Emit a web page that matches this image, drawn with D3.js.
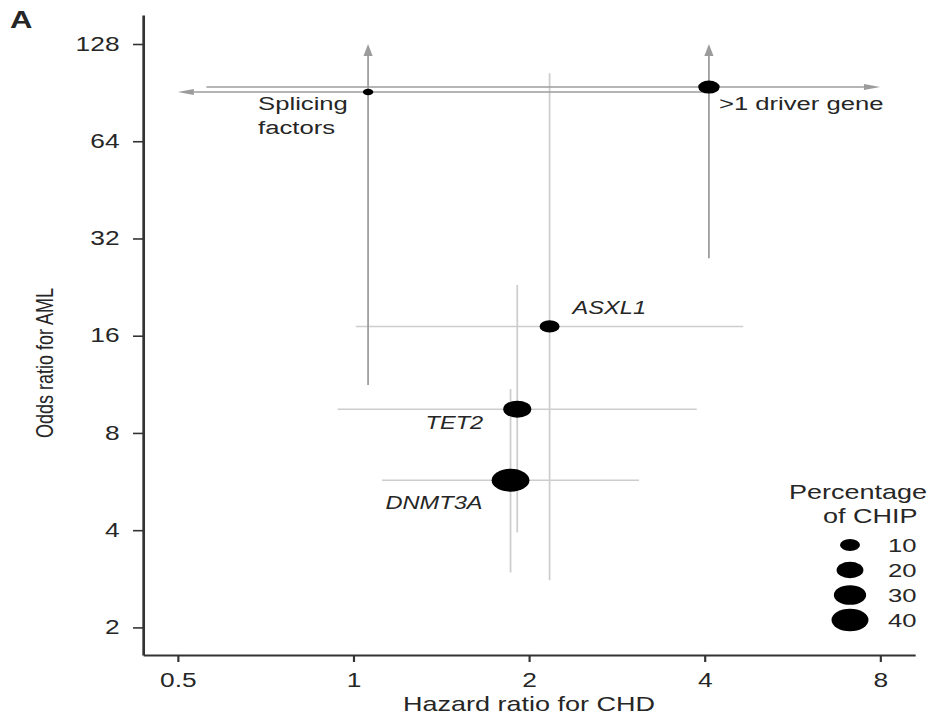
<!DOCTYPE html>
<html>
<head>
<meta charset="utf-8">
<script src="https://cdn.jsdelivr.net/npm/d3@7/dist/d3.min.js"></script>
<style>
  html, body { margin: 0; padding: 0; background: #fff; }
  svg { display: block; }
  text { font-family: "Liberation Sans", Arial, sans-serif; fill: #262626; }
</style>
</head>
<body>
<svg id="chart" width="932" height="716"></svg>
<script>
// Mutation groups in clonal hematopoiesis
const genes = ["Splicing factors", ">1 driver gene", "ASXL1", "TET2", "DNMT3A"];
const hazardRatio = [1.06, 4.07, 2.17, 1.91, 1.86];
// null = interval runs past the plotted range (drawn with an arrow)
const hrLower = [null, 0.56, 1.01, 0.94, 1.12];
const hrUpper = [4.04, null, 4.66, 3.88, 3.09];
const oddsRatio = [90.9, 94.2, 17.1, 9.48, 5.71];
const orLower = [11.25, 27.8, 2.80, 3.94, 2.96];
const orUpper = [null, null, 104, 22.96, 10.94];
const chipPercent = [1, 12, 10, 22, 42];
const italicName = [false, false, true, true, true];

const xTicks = [0.5, 1, 2, 4, 8];
const yTicks = [2, 4, 8, 16, 32, 64, 128];
const legendValues = [10, 20, 30, 40];
const hrLimits = [0.5, 8];
const orLimitHigh = 128;

// The figure is drawn in a horizontally stretched frame
const S = 1.35;
const svg = d3.select("#chart");
const g = svg.append("g").attr("transform", `scale(${S},1)`);

const x = d3.scaleLog().base(2).domain([0.436, 9.18]).range([143 / S, 915 / S]);
const y = d3.scaleLog().base(2).domain([1.643, 157.4]).range([655, 15]);
const area = d3.scaleLinear().domain([0, 40]).range([7.1, 125.7]);
const ry = v => Math.sqrt(area(v));
const rx = v => ry(v) * 1.22;

// Axes
const xAxis = d3.axisBottom(x).tickValues(xTicks).tickFormat(d3.format("")).tickSize(7).tickPadding(11).tickSizeOuter(0);
const yAxis = d3.axisLeft(y).tickValues(yTicks).tickFormat(d3.format("")).tickSize(7.4).tickPadding(10).tickSizeOuter(0);

const gx = g.append("g").attr("transform", `translate(0,${y.range()[0]})`).call(xAxis);
const gy = g.append("g").attr("transform", `translate(${x.range()[0]},0)`).call(yAxis);
[gx, gy].forEach(ax => {
  ax.select(".domain").attr("stroke", "#333").attr("stroke-width", 2);
  ax.selectAll(".tick line").attr("stroke", "#333").attr("stroke-width", 1.6);
  ax.selectAll(".tick text").attr("font-size", 19.5).attr("fill", "#333")
    .attr("font-family", "Liberation Sans, Arial, sans-serif");
});

// Axis titles
g.append("text")
  .attr("x", (x(0.436) + x(9.18)) / 2).attr("y", 711)
  .attr("text-anchor", "middle").attr("font-size", 20)
  .text("Hazard ratio for CHD");
g.append("text")
  .attr("transform", `translate(${53 / S},${363}) rotate(-90)`)
  .attr("text-anchor", "middle").attr("font-size", 18)
  .attr("font-family", "Liberation Sans Narrow, Liberation Sans, Arial, sans-serif")
  .text("Odds ratio for AML");

// Panel letter
g.append("text").attr("x", 10 / S).attr("y", 28)
  .attr("font-size", 23).attr("font-weight", "900").attr("fill", "#111").text("A");

// Confidence intervals
const rows = genes.map((name, i) => ({
  name, i,
  hr: hazardRatio[i], hrLo: hrLower[i], hrHi: hrUpper[i],
  or: oddsRatio[i], orLo: orLower[i], orHi: orUpper[i],
  pct: chipPercent[i], italic: italicName[i]
}));
const truncated = d => d.hrLo === null || d.hrHi === null || d.orHi === null;
const lineColor = d => truncated(d) ? "#9c9c9c" : "#cdcdcd";

const arrowLen = 12, arrowHalf = 3.4;
const ci = g.append("g");

// Lighter intervals underneath, darker (truncated) on top
const ordered = rows.slice().sort((a, b) => truncated(a) - truncated(b));
ordered.forEach(d => {
  const col = lineColor(d);
  // horizontal (hazard ratio)
  const x0 = d.hrLo === null ? x(hrLimits[0]) + arrowLen : x(d.hrLo);
  const x1 = d.hrHi === null ? x(hrLimits[1]) - arrowLen : x(d.hrHi);
  ci.append("line").attr("x1", x0).attr("x2", x1).attr("y1", y(d.or)).attr("y2", y(d.or))
    .attr("stroke", col).attr("stroke-width", 1.5);
  if (d.hrLo === null) {
    const tx = x(hrLimits[0]), ty = y(d.or);
    ci.append("path").attr("d", `M${tx},${ty}L${tx + arrowLen},${ty - 3}L${tx + arrowLen},${ty + 3}Z`).attr("fill", col);
  }
  if (d.hrHi === null) {
    const tx = x(hrLimits[1]), ty = y(d.or);
    ci.append("path").attr("d", `M${tx},${ty}L${tx - arrowLen},${ty - 3}L${tx - arrowLen},${ty + 3}Z`).attr("fill", col);
  }
  // vertical (odds ratio)
  const y0 = y(d.orLo);
  const y1 = d.orHi === null ? y(orLimitHigh) + arrowLen : y(d.orHi);
  ci.append("line").attr("x1", x(d.hr)).attr("x2", x(d.hr)).attr("y1", y0).attr("y2", y1)
    .attr("stroke", col).attr("stroke-width", 1.3);
  if (d.orHi === null) {
    const tx = x(d.hr), ty = y(orLimitHigh);
    ci.append("path").attr("d", `M${tx},${ty}L${tx - arrowHalf},${ty + arrowLen}L${tx + arrowHalf},${ty + arrowLen}Z`).attr("fill", col);
  }
});

// Points sized by share of CHIP
g.append("g").selectAll("ellipse").data(rows).join("ellipse")
  .attr("cx", d => x(d.hr)).attr("cy", d => y(d.or))
  .attr("rx", d => rx(d.pct)).attr("ry", d => ry(d.pct))
  .attr("fill", "#000");

// Point labels (offsets in screen pixels)
const labelPlace = [
  { anchor: "start", dx: -110, dy: 18 },
  { anchor: "start", dx: 10, dy: 23 },
  { anchor: "start", dx: 23, dy: -12 },
  { anchor: "end", dx: -34, dy: 20 },
  { anchor: "end", dx: -28, dy: 29 }
];
rows.forEach(d => {
  const p = labelPlace[d.i];
  const t = g.append("text")
    .attr("x", x(d.hr) + p.dx / S).attr("y", y(d.or) + p.dy)
    .attr("text-anchor", p.anchor)
    .attr("font-size", d.italic ? 17.5 : 19)
    .attr("font-style", d.italic ? "italic" : "normal");
  const parts = d.name === "Splicing factors" ? ["Splicing", "factors"] : [d.name];
  parts.forEach((s, k) => t.append("tspan").attr("x", x(d.hr) + p.dx / S).attr("dy", k === 0 ? 0 : 24).text(s));
});

// Size legend
const lg = g.append("g");
lg.append("text").attr("x", 789 / S).attr("y", 499).attr("font-size", 20).text("Percentage");
lg.append("text").attr("x", 823 / S).attr("y", 523).attr("font-size", 20).text("of CHIP");
legendValues.forEach((v, k) => {
  const cy = 545 + k * 25;
  lg.append("ellipse").attr("cx", 850 / S).attr("cy", cy).attr("rx", rx(v)).attr("ry", ry(v)).attr("fill", "#000");
  lg.append("text").attr("x", 888 / S).attr("y", cy).attr("dy", "0.35em").attr("font-size", 19).text(v);
});
</script>
</body>
</html>
